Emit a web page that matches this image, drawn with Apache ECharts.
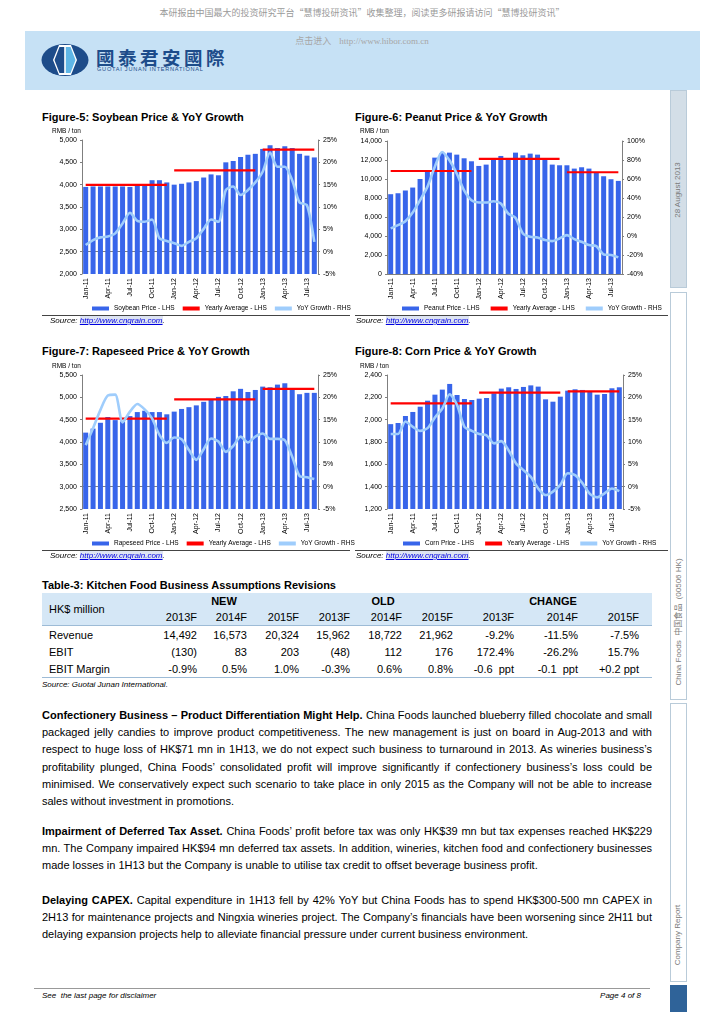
<!DOCTYPE html>
<html><head><meta charset="utf-8">
<script src="https://cdn.jsdelivr.net/npm/echarts/dist/echarts.min.js"></script>
<style>
body{margin:0;width:724px;height:1024px;position:relative;background:#fff;font-family:"Liberation Sans",Arial,sans-serif;overflow:hidden;color:#000}
.a{position:absolute;white-space:nowrap}
.ft{font-weight:bold;font-size:11px;line-height:14px}
.src{font-size:8px;font-style:italic;line-height:10px}
.src span{color:#0000e0;text-decoration:underline;background:#dde4f3}
.rule{position:absolute;height:1px;background:#444}
.side{position:absolute;left:670px;width:15px;border:1px solid #b9cbd9}
.rot{position:absolute;transform:rotate(-90deg);transform-origin:center center;text-align:center;font-size:8px;color:#7a7a7a;height:12px;line-height:12px;white-space:nowrap}
.chart{position:absolute}
.tc{position:absolute;font-size:11px;line-height:14px;white-space:pre}
.para{position:absolute;left:42px;width:610px;font-size:11px}
.jl{white-space:nowrap;display:block;height:17.2px;line-height:17.2px}
.jl span.in{display:inline-block}
</style></head><body>

<!-- header -->
<div class="a" style="left:0;width:724px;top:6px;text-align:center;font-family:'Noto Sans CJK SC';font-size:9px;color:#9a9a9a;line-height:14px">本研报由中国最大的投资研究平台“慧博投研资讯”收集整理，阅读更多研报请访问“慧博投研资讯”</div>
<div class="a" style="left:25px;top:31px;width:675px;height:59px;background:#c6e1f5"></div>
<div class="a" style="left:0;width:724px;top:34px;text-align:center;font-family:'Noto Sans CJK SC';font-size:9px;color:#a6a6a6;line-height:14px">点击进入&nbsp;&nbsp;&nbsp;&nbsp;<span style="font-family:'Liberation Serif'">http://www.hibor.com.cn</span></div>
<svg class="a" style="left:40px;top:43px" width="50" height="34" viewBox="0 0 50 34">
  <ellipse cx="25" cy="17" rx="23.5" ry="16" fill="#1d4c8a"/>
  <polygon points="19,2 31,2 37,17 31,32 19,32 13,17" fill="#ffffff"/>
  <polygon points="25,4 30.5,4 35.5,17 30.5,30 25,30" fill="#5fb6e6"/>
  <polygon points="25,4 19.5,4 14.5,17 19.5,30 25,30" fill="#1d4c8a"/>
  <rect x="24.2" y="3" width="1.6" height="28" fill="#fff"/>
</svg>
<div class="a" style="left:96px;top:47px;font-family:'Noto Sans CJK TC';font-weight:bold;font-size:18.5px;letter-spacing:3.5px;color:#1d4c8a;line-height:20px">國泰君安國際</div>
<div class="a" style="left:97px;top:66px;font-size:5.6px;letter-spacing:0.75px;color:#1d4c8a;line-height:7px">GUOTAI JUNAN INTERNATIONAL</div>

<!-- sidebar -->
<div class="side" style="top:90px;height:196px;background:#d3dee7"></div>
<div class="rot" style="left:578px;top:184px;width:200px">28 August 2013</div>
<div class="side" style="top:292px;height:406px;background:#fff"></div>
<div class="rot" style="left:578px;top:616px;width:200px">China Foods&nbsp;&nbsp;<span style="font-family:'Noto Sans CJK SC'">中国食品</span>&nbsp;&nbsp;(00506 HK)</div>
<div class="side" style="top:703px;height:277px;background:#fff"></div>
<div class="rot" style="left:578px;top:929px;width:200px">Company Report</div>
<div class="a" style="left:670px;top:985px;width:17px;height:27px;background:#2f6399"></div>

<!-- figure titles -->
<div class="a ft" style="left:42px;top:110px">Figure-5: Soybean Price &amp; YoY Growth</div>
<div class="a ft" style="left:355px;top:110px">Figure-6: Peanut Price &amp; YoY Growth</div>
<div class="a ft" style="left:42px;top:344px">Figure-7: Rapeseed Price &amp; YoY Growth</div>
<div class="a ft" style="left:355px;top:344px">Figure-8: Corn Price &amp; YoY Growth</div>

<div id="c1" class="chart" style="left:40px;top:126px;width:330px;height:190px"></div>
<div id="c2" class="chart" style="left:355px;top:126px;width:340px;height:190px"></div>
<div id="c3" class="chart" style="left:40px;top:361px;width:330px;height:190px"></div>
<div id="c4" class="chart" style="left:355px;top:361px;width:340px;height:190px"></div>

<div class="rule" style="left:42px;top:315px;width:308px"></div>
<div class="rule" style="left:355px;top:315px;width:313px"></div>
<div class="rule" style="left:42px;top:550px;width:308px"></div>
<div class="rule" style="left:355px;top:550px;width:313px"></div>

<div class="a src" style="left:50px;top:316px">Source: <span>http://www.cngrain.com</span>.</div>
<div class="a src" style="left:356px;top:316px">Source: <span>http://www.cngrain.com</span>.</div>
<div class="a src" style="left:50px;top:551px">Source: <span>http://www.cngrain.com</span>.</div>
<div class="a src" style="left:356px;top:551px">Source: <span>http://www.cngrain.com</span>.</div>

<!-- table -->
<div class="a ft" style="left:42px;top:578px">Table-3: Kitchen Food Business Assumptions Revisions</div>
<div class="a" style="left:42px;top:593px;width:610px;height:32px;background:#d5e7f6;border-bottom:1px solid #9dbbd6"></div>
<div class="a" style="left:42px;top:677px;width:610px;height:1px;background:#9dbbd6"></div>
<div id="tbl"></div>
<div class="a src" style="left:42px;top:680px">Source: Guotai Junan International.</div>

<!-- paragraphs -->
<div class="para" style="top:707px" id="p1"></div>
<div class="para" style="top:823px" id="p2"></div>
<div class="para" style="top:892px" id="p3"></div>

<!-- footer -->
<div class="a" style="left:34px;top:988px;width:616px;height:1px;background:#999"></div>
<div class="a src" style="left:42px;top:991px">See&nbsp; the last page for disclaimer</div>
<div class="a src" style="left:540px;width:101px;text-align:right;top:991px">Page 4 of 8</div>

<script>
// ---------- data ----------
const months = ['Jan-11','Feb-11','Mar-11','Apr-11','May-11','Jun-11','Jul-11','Aug-11','Sep-11','Oct-11','Nov-11','Dec-11',
  'Jan-12','Feb-12','Mar-12','Apr-12','May-12','Jun-12','Jul-12','Aug-12','Sep-12','Oct-12','Nov-12','Dec-12',
  'Jan-13','Feb-13','Mar-13','Apr-13','May-13','Jun-13','Jul-13','Aug-13'];
const monthYear = [0,0,0,0,0,0,0,0,0,0,0,0, 1,1,1,1,1,1,1,1,1,1,1,1, 2,2,2,2,2,2,2,2];

const soyPrice = [3950,3960,3960,3960,3960,3960,3950,3970,3970,4100,4100,4050,
  4000,4020,4050,4080,4160,4230,4210,4500,4530,4620,4670,4690,
  4800,4880,4820,4860,4820,4690,4650,4610];
const soyAvg = [3995,4320,4785];
const soyYoY = [1.5,2.6,3.2,3.4,4.1,6.3,8.7,6.9,6.7,7.2,3.0,2.4,
  1.9,1.3,2.2,3.0,5.1,7.2,6.7,13.8,14.6,12.7,13.8,15.5,
  17.9,22.2,19.0,19.0,16.0,11.0,10.4,2.2];

const peanutPrice = [8400,8500,8790,9100,10000,10750,12250,12740,12775,12565,12180,11865,
  11375,11515,12145,12425,12145,12775,12495,12670,12565,12145,11515,11445,
  11445,11095,11235,11095,10640,10290,9975,9800];
const peanutAvg = [10840,12120,10710];
const peanutYoY = [8,11.4,15.6,24.7,37.7,51.7,72.7,88.4,79.7,65.7,48,37.7,
  35.2,35.2,36.6,34.2,23.7,19.1,2.7,-0.8,-1.5,-4.3,-5.4,-2.6,
  0.9,-3.3,-6.1,-9.6,-10.6,-19.4,-20,-22.5];

const rapePrice = [4210,4300,4430,4560,4490,4460,4580,4670,4700,4670,4670,4620,
  4680,4740,4780,4820,4900,4955,5010,5030,5135,5190,5120,5165,
  5240,5225,5285,5315,5170,5070,5100,5100];
const rapeAvg = [4525,4955,5190];
const rapeYoY = [9.3,13.1,17.2,20.4,20.6,14.4,16.8,18.5,17.3,15.3,11.6,9.8,
  11.0,10.6,8.2,6.0,8.4,10.8,10.1,7.8,9.1,11.2,9.9,11.2,
  11.9,10.7,10.7,10.4,6.7,2.4,2.1,1.7];

const cornPrice = [1960,1970,2033,2069,2116,2170,2224,2269,2320,2221,2185,2176,
  2188,2194,2236,2278,2290,2275,2293,2307,2296,2182,2161,2206,
  2260,2272,2266,2248,2224,2230,2281,2290];
const cornAvg = [2146,2242,2254];
const cornYoY = [11.8,11.8,14.6,13.4,12.5,13.1,15.5,17.5,20.7,18.3,13.4,12.5,
  11.8,11.5,9.7,10.2,8.1,5.2,3.7,2.2,-0.4,-1.9,-1.1,0.4,
  3.0,2.6,0.8,-1.6,-2.4,-1.5,-0.4,-1.0];

// table
const tblYears = ['2013F','2014F','2015F','2013F','2014F','2015F','2013F','2014F','2015F'];
const tblGroups = ['NEW','OLD','CHANGE'];
const tblRowNames = ['Revenue','EBIT','EBIT Margin'];
const tblRevenue = ['14,492','16,573','20,324','15,962','18,722','21,962','-9.2%','-11.5%','-7.5%'];
const tblEbit = ['(130)','83','203','(48)','112','176','172.4%','-26.2%','15.7%'];
const tblMargin = ['-0.9%','0.5%','1.0%','-0.3%','0.6%','0.8%','-0.6  ppt','-0.1  ppt','+0.2 ppt'];

// ---------- charts ----------
const fmtNum = v => v.toLocaleString('en-US');
function makeChart(id, cfg) {
  const ch = echarts.init(document.getElementById(id));
  const axisStyle = {show:true, lineStyle:{color:'#7f7f7f', width:1}};
  const avgSeries = cfg.avg.map((a, y) => ({
    name:'Yearly Average - LHS', type:'line', yAxisIndex:0, symbol:'none',
    data: months.map((m, i) => monthYear[i] === y ? a : null),
    lineStyle:{color:'#ff0000', width:2.2}, itemStyle:{color:'#ff0000'}, z:4, silent:true
  }));
  ch.setOption({
    animation:false,
    textStyle:{fontFamily:'Liberation Sans'},
    grid:{left:cfg.grid[0], right:cfg.grid[1], top:cfg.grid[2], bottom:cfg.grid[3]},
    graphic:[{type:'text', left:cfg.unitLeft, top:2, style:{text:'RMB / ton', fontSize:6.5, fill:'#000', fontFamily:'Liberation Sans'}}],
    legend:{left:cfg.legendLeft, top:174, itemWidth:17, itemHeight:4, itemGap:cfg.legendGap,
      textStyle:{fontSize:6.5, color:'#000'},
      data:[{name:cfg.barName, icon:'rect'},{name:'Yearly Average - LHS', icon:'rect'},{name:'YoY Growth - RHS', icon:'rect'}]},
    xAxis:{type:'category', data:months, boundaryGap:true,
      axisLine:axisStyle, axisTick:{show:false},
      axisLabel:{interval:2, rotate:90, fontSize:7, color:'#000', margin:4}},
    yAxis:[
      {type:'value', min:cfg.lmin, max:cfg.lmax, interval:cfg.lint, splitLine:{show:false},
       axisLine:axisStyle, axisTick:{show:true, length:2, lineStyle:{color:'#7f7f7f'}},
       axisLabel:{fontSize:7, color:'#000', margin:5, formatter:fmtNum}},
      {type:'value', min:cfg.rmin, max:cfg.rmax, interval:cfg.rint, splitLine:{show:false},
       axisLine:axisStyle, axisTick:{show:true, length:2, lineStyle:{color:'#7f7f7f'}},
       axisLabel:{fontSize:7, color:'#000', margin:5, formatter:'{value}%'}}
    ],
    series:[
      {name:cfg.barName, type:'bar', data:cfg.price, barCategoryGap:'32%',
       itemStyle:{color:'#3865ea'}, z:2, silent:true},
      ...avgSeries,
      {name:'YoY Growth - RHS', type:'line', yAxisIndex:1, data:cfg.yoy, symbol:'none', smooth:0.25,
       lineStyle:{color:'#9fcdfc', width:2.6}, itemStyle:{color:'#9fcdfc'}, z:5, silent:true}
    ]
  });
}
makeChart('c1', {grid:[42,52,14,42], unitLeft:12, legendLeft:47, legendGap:8, barName:'Soybean Price - LHS',
  price:soyPrice, avg:soyAvg, yoy:soyYoY, lmin:2000, lmax:5000, lint:500, rmin:-5, rmax:25, rint:5});
makeChart('c2', {grid:[32,73,15,42], unitLeft:5, legendLeft:42, legendGap:11, barName:'Peanut Price - LHS',
  price:peanutPrice, avg:peanutAvg, yoy:peanutYoY, lmin:0, lmax:14000, lint:2000, rmin:-40, rmax:100, rint:20});
makeChart('c3', {grid:[42,52,14,42], unitLeft:12, legendLeft:47, legendGap:8, barName:'Rapeseed Price - LHS',
  price:rapePrice, avg:rapeAvg, yoy:rapeYoY, lmin:2500, lmax:5500, lint:500, rmin:-5, rmax:25, rint:5});
makeChart('c4', {grid:[32,72,14,42], unitLeft:5, legendLeft:43, legendGap:11, barName:'Corn Price - LHS',
  price:cornPrice, avg:cornAvg, yoy:cornYoY, lmin:1200, lmax:2400, lint:200, rmin:-5, rmax:25, rint:5});

// ---------- table ----------
(function(){
  const colRight = [197,247,299,350,402,453,514,578,639];
  const groupCenter = [224,383,553];
  const rowY = [635,652,669];
  const rows = [tblRevenue, tblEbit, tblMargin];
  let h = '';
  const place = (txt, x, y, align, extra) => {
    if (align === 'r') h += `<div class="tc" style="right:${724-x}px;top:${y-7}px;${extra||''}">${txt}</div>`;
    else if (align === 'c') h += `<div class="tc" style="left:${x-60}px;width:120px;text-align:center;top:${y-7}px;${extra||''}">${txt}</div>`;
    else h += `<div class="tc" style="left:${x}px;top:${y-7}px;${extra||''}">${txt}</div>`;
  };
  tblGroups.forEach((g,i) => place(g, groupCenter[i], 601, 'c', 'font-weight:bold'));
  place('HK$ million', 49, 609, 'l');
  tblYears.forEach((t,i) => place(t, colRight[i], 617, 'r'));
  tblRowNames.forEach((n,r) => {
    place(n, 49, rowY[r], 'l');
    rows[r].forEach((v,i) => place(v, colRight[i], rowY[r], 'r'));
  });
  document.getElementById('tbl').innerHTML = h;
})();

// ---------- paragraphs ----------
const para1 = [
  "<b>Confectionery Business – Product Differentiation Might Help.</b> China Foods launched blueberry filled chocolate and small",
  "packaged jelly candies to improve product competitiveness. The new management is just on board in Aug-2013 and with",
  "respect to huge loss of HK$71 mn in 1H13, we do not expect such business to turnaround in 2013. As wineries business’s",
  "profitability plunged, China Foods’ consolidated profit will improve significantly if confectionery business’s loss could be",
  "minimised. We conservatively expect such scenario to take place in only 2015 as the Company will not be able to increase",
  "sales without investment in promotions."];
const para2 = [
  "<b>Impairment of Deferred Tax Asset.</b> China Foods’ profit before tax was only HK$39 mn but tax expenses reached HK$229",
  "mn. The Company impaired HK$94 mn deferred tax assets. In addition, wineries, kitchen food and confectionery businesses",
  "made losses in 1H13 but the Company is unable to utilise tax credit to offset beverage business profit."];
const para3 = [
  "<b>Delaying CAPEX.</b> Capital expenditure in 1H13 fell by 42% YoY but China Foods has to spend HK$300-500 mn CAPEX in",
  "2H13 for maintenance projects and Ningxia wineries project. The Company’s financials have been worsening since 2H11 but",
  "delaying expansion projects help to alleviate financial pressure under current business environment."];
function fillPara(id, lines) {
  const el = document.getElementById(id);
  el.innerHTML = lines.map(l => `<div class="jl"><span class="in">${l}</span></div>`).join('');
  const spans = el.querySelectorAll('span.in');
  spans.forEach((s, i) => {
    if (i === spans.length - 1) return;
    const w = s.getBoundingClientRect().width;
    const n = (s.textContent.match(/ /g) || []).length;
    if (n > 0) s.style.wordSpacing = ((610 - w) / n) + 'px';
  });
}
fillPara('p1', para1); fillPara('p2', para2); fillPara('p3', para3);
</script>
</body></html>
